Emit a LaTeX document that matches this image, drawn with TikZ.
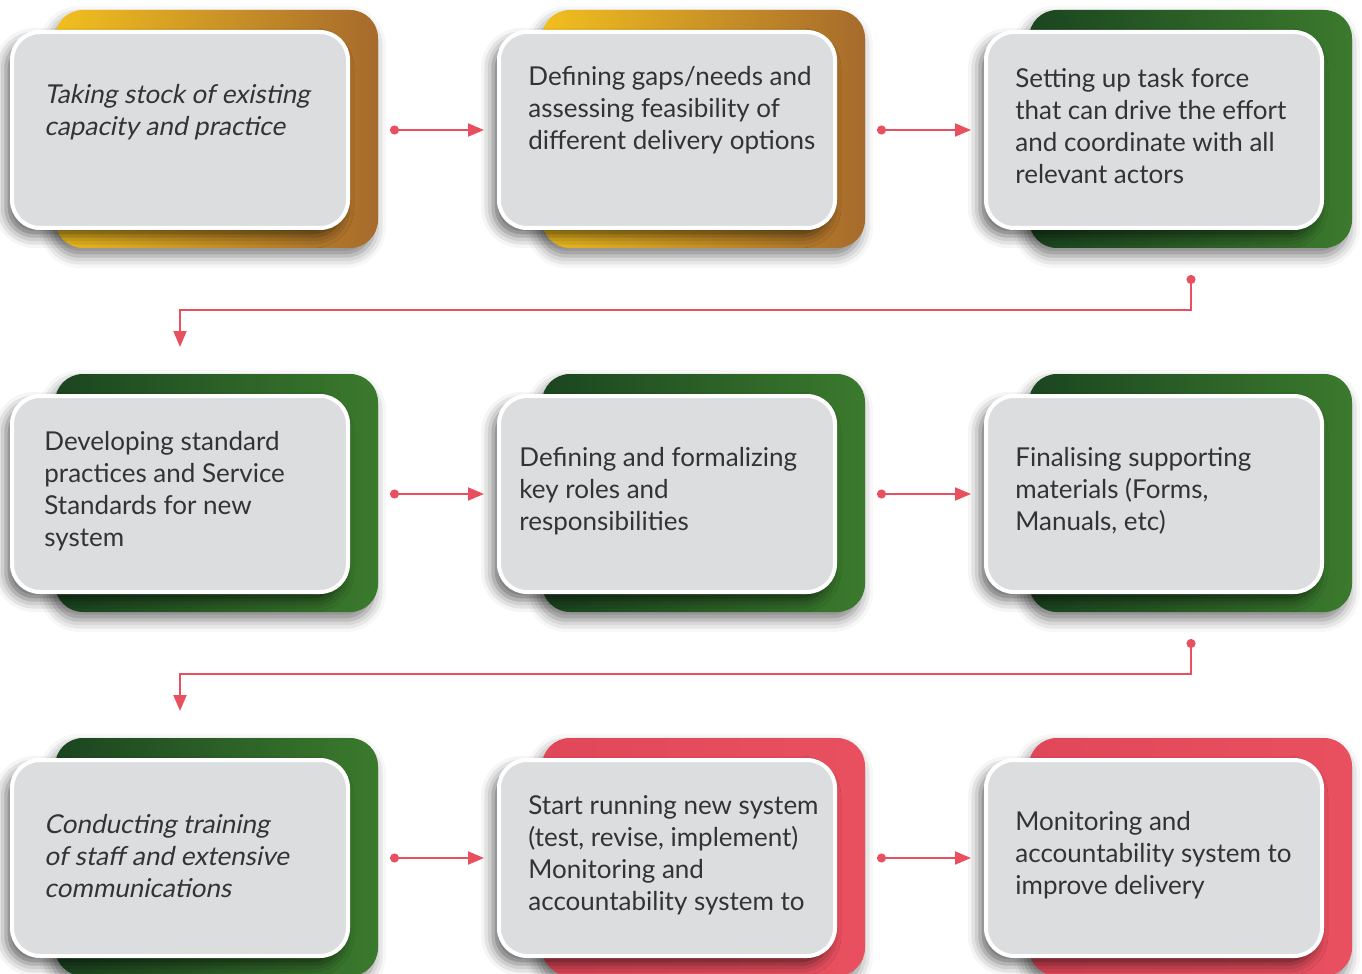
\documentclass[tikz,border=0pt]{standalone}
\usepackage{fontspec}
\setmainfont{Lato}
\newfontfamily\slantfont[FakeSlant=0.2]{Lato}
\usetikzlibrary{positioning, arrows.meta, shadows.blur, backgrounds}
\definecolor{cardgray}{HTML}{DCDDDF}
\definecolor{inkgray}{HTML}{333333}
\definecolor{flowred}{HTML}{E8505F}
\definecolor{goldleft}{HTML}{F2BF1F}
\definecolor{goldright}{HTML}{A66A2C}
\definecolor{greenleft}{HTML}{1B4520}
\definecolor{greenright}{HTML}{3B7A2D}
\definecolor{redleft}{HTML}{E04759}
\definecolor{redright}{HTML}{E9505F}
\tikzstyle{card} = [draw=white, line width=2pt, fill=cardgray, rounded corners=14pt,
  minimum width=168pt, minimum height=98pt,
  blur shadow={shadow xshift=-3pt, shadow yshift=-4pt, shadow blur radius=6pt, shadow opacity=60}]
\tikzstyle{cardtext} = [anchor=west, align=left, text=inkgray, inner sep=0pt,
  font=\fontsize{13}{16}\selectfont]
\tikzstyle{flow} = [draw=flowred, line width=1pt, {Circle[length=4.5pt]}-{Triangle[length=8pt,width=6.5pt]}]
% coloured plate sitting behind a card
\newcommand{\backcard}[3]{%
  \shade[left color=#2, right color=#3, rounded corners=14pt,
    blur shadow={shadow xshift=-2pt, shadow yshift=-4pt, shadow blur radius=6pt, shadow opacity=50}]
    ([xshift=22.5pt,yshift=-9pt]#1.south west) rectangle ([xshift=14pt,yshift=10pt]#1.north east);}

\begin{document}
\begin{tikzpicture}
  \useasboundingbox (0,0) rectangle (681pt,-487pt);

  % Place the cards
  \node [card] (b1) at (90pt,-65pt) {};
  \node [card, right=73.5pt of b1] (b2) {};
  \node [card, right=73.5pt of b2] (b3) {};
  \node [card, below=82pt of b1] (b4) {};
  \node [card, right=73.5pt of b4] (b5) {};
  \node [card, right=73.5pt of b5] (b6) {};
  \node [card, below=82pt of b4] (b7) {};
  \node [card, right=73.5pt of b7] (b8) {};
  \node [card, right=73.5pt of b8] (b9) {};

  % Plates behind the cards
  \begin{pgfonlayer}{background}
    \backcard{b1}{goldleft}{goldright}
    \backcard{b2}{goldleft}{goldright}
    \backcard{b3}{greenleft}{greenright}
    \backcard{b4}{greenleft}{greenright}
    \backcard{b5}{greenleft}{greenright}
    \backcard{b6}{greenleft}{greenright}
    \backcard{b7}{greenleft}{greenright}
    \backcard{b8}{redleft}{redright}
    \backcard{b9}{redleft}{redright}
  \end{pgfonlayer}

  % Texts
  \node [cardtext, font=\fontsize{13}{16}\slantfont] (t1) at ([xshift=17pt,yshift=9pt]b1.west)
    {Taking stock of existing\\capacity and practice};
  \node [cardtext] (t2) at ([xshift=15.5pt,yshift=10pt]b2.west)
    {Defining gaps/needs and\\assessing feasibility of\\different delivery options};
  \node [cardtext] (t3) at ([xshift=15.5pt,yshift=2pt]b3.west)
    {Setting up task force\\that can drive the effort\\and coordinate with all\\relevant actors};
  \node [cardtext] (t4) at ([xshift=17pt,yshift=1.5pt]b4.west)
    {Developing standard\\practices and Service\\Standards for new\\system};
  \node [cardtext] (t5) at ([xshift=11pt,yshift=1.5pt]b5.west)
    {Defining and formalizing\\key roles and\\responsibilities};
  \node [cardtext] (t6) at ([xshift=15.5pt,yshift=1.5pt]b6.west)
    {Finalising supporting\\materials (Forms,\\Manuals, etc)};
  \node [cardtext, font=\fontsize{13}{16}\slantfont] (t7) at ([xshift=17pt,yshift=1pt]b7.west)
    {Conducting training\\of staff and extensive\\communications};
  \node [cardtext] (t8) at ([xshift=15.5pt,yshift=1.5pt]b8.west)
    {Start running new system\\(test, revise, implement)\\Monitoring and\\accountability system to};
  \node [cardtext] (t9) at ([xshift=15.5pt,yshift=1.5pt]b9.west)
    {Monitoring and\\accountability system to\\improve delivery};

  % Connect the cards
  \draw [flow, shorten <=20pt, shorten >=6.5pt] (b1) -- (b2);
  \draw [flow, shorten <=20pt, shorten >=6.5pt] (b2) -- (b3);
  \draw [flow, shorten <=20pt, shorten >=6.5pt] (b4) -- (b5);
  \draw [flow, shorten <=20pt, shorten >=6.5pt] (b5) -- (b6);
  \draw [flow, shorten <=20pt, shorten >=6.5pt] (b7) -- (b8);
  \draw [flow, shorten <=20pt, shorten >=6.5pt] (b8) -- (b9);

  \coordinate (d1) at ([xshift=18.5pt,yshift=-22.5pt]b3.south);
  \coordinate (e1) at ([yshift=23.5pt]b4.north);
  \draw [flow] (d1) -- ++(0,-17.5pt) -| (e1);
  \coordinate (d2) at ([xshift=18.5pt,yshift=-22.5pt]b6.south);
  \coordinate (e2) at ([yshift=23.5pt]b7.north);
  \draw [flow] (d2) -- ++(0,-17.5pt) -| (e2);
\end{tikzpicture}
\end{document}
